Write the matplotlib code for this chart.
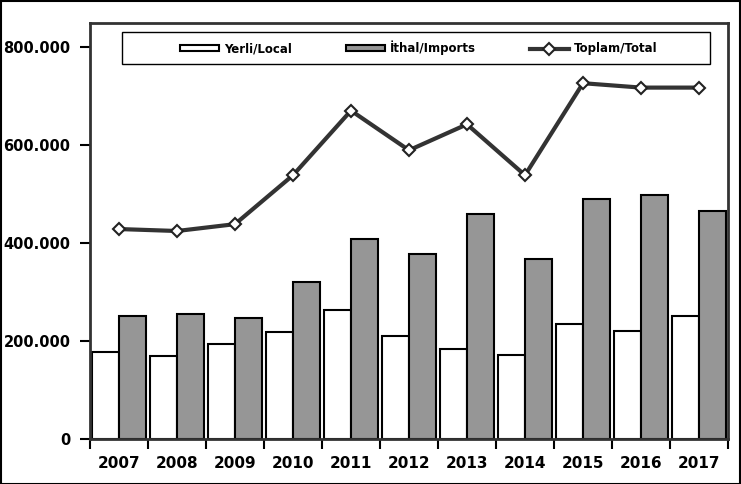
import matplotlib.pyplot as plt
import numpy as np
from matplotlib.ticker import FuncFormatter, FixedLocator

years = ['2007', '2008', '2009', '2010', '2011', '2012', '2013', '2014', '2015', '2016', '2017']
local = [177000, 169000, 194000, 218000, 263000, 210000, 184000, 171000, 235000, 220000, 251000]
imports = [251000, 255000, 247000, 320000, 408000, 378000, 459000, 367000, 490000, 498000, 465000]
total = [429000, 425000, 439000, 539000, 671000, 590000, 643000, 539000, 727000, 718000, 718000]

plt.rcParams['font.family'] = ['DejaVu Sans']
plt.rcParams['font.weight'] = 'bold'

fig = plt.figure(figsize=(7.41, 4.84), dpi=100)
ax = fig.add_axes([90 / 741, 45 / 484, 638 / 741, 416 / 484])

x = np.arange(len(years))
w = 0.46
b1 = ax.bar(x - w / 2, local, w, color='white', edgecolor='black', linewidth=1.5, zorder=2)
b2 = ax.bar(x + w / 2, imports, w, color='#969696', edgecolor='black', linewidth=1.5, zorder=2)
l1, = ax.plot(x, total, color='#333333', lw=3, marker='D', markersize=6.5, markerfacecolor='white',
              markeredgecolor='#222222', markeredgewidth=1.5, zorder=3)

ax.set_xlim(-0.5, len(years) - 0.5)
ax.set_ylim(0, 850000)
ax.set_yticks([0, 200000, 400000, 600000, 800000])
ax.yaxis.set_major_formatter(FuncFormatter(lambda v, p: '0' if v == 0 else f'{int(v):,}'.replace(',', '.')))
ax.set_xticks(x)
ax.set_xticklabels(years)
ax.xaxis.set_minor_locator(FixedLocator(np.arange(-0.5, len(years), 1)))
ax.tick_params(axis='x', which='major', length=0, pad=12, labelsize=11)
ax.tick_params(axis='x', which='minor', length=7, width=1.5, direction='out')
ax.tick_params(axis='y', length=7, width=1.5, direction='out', labelsize=10.5, pad=7)
for lab in ax.get_xticklabels() + ax.get_yticklabels():
    lab.set_fontweight('bold')
for s in ax.spines.values():
    s.set_color('#333333')
    s.set_linewidth(2)

# legend box drawn by hand, entries placed inside it
ax.add_patch(plt.Rectangle((32 / 638, 375 / 416), 588 / 638, 32 / 416, transform=ax.transAxes,
                           fill=True, facecolor='white', edgecolor='black', linewidth=1, zorder=4))
leg = ax.legend([b1, b2, l1], ['Yerli/Local', 'İthal/Imports', 'Toplam/Total'],
                loc='center left', bbox_to_anchor=(90 / 638, 391 / 416), ncol=3, frameon=False,
                borderpad=0, borderaxespad=0, columnspacing=4.6, handlelength=3.3,
                handleheight=0.4, handletextpad=0.4,
                prop={'weight': 'bold', 'size': 8.5})
leg.set_zorder(5)

fig.patches.append(plt.Rectangle((0.001, 0.001), 0.997, 0.997, transform=fig.transFigure,
                                 fill=False, edgecolor='black', linewidth=1.5))

fig.savefig('out.png', dpi=100)
